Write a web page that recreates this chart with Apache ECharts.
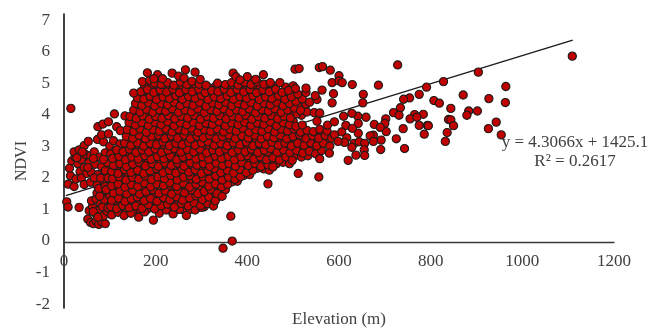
<!DOCTYPE html>
<html><head><meta charset="utf-8">
<style>html,body{margin:0;padding:0;background:#fff}#c{width:663px;height:333px}</style>
<script src="https://cdn.jsdelivr.net/npm/echarts@6/dist/echarts.min.js"></script>
</head><body><div id="c"></div>
<script>
const xTicks=[0,200,400,600,800,1000,1200];
const yTicks=[-2,-1,0,1,2,3,4,5,6,7];
const trendLine=[[4,1.44],[1110,6.2]];
const equationLines=['y = 4.3066x + 1425.1','R² = 0.2617'];

const leftCluster=[[6,1.25],[9,1.09],[33,1.08],[9,1.79],[15,4.11],[22,1.72],[14,2.05],[12,2.28],[17,2.5],[24,2.62],[22,2.78],[33,2.84],[44,2.97],[53,3.1],[73,3.16],[86,3.09],[82,3.3],[97,3.33],[74,3.55],[85,3.63],[97,3.7],[110,3.94],[115,3.55],[123,3.43],[133,3.88],
[30,2.42],[38,2.55],[47,2.7],[58,2.66],[66,2.78],[78,2.62],[90,2.75],[35,2.18],[44,2.3],[55,2.45],[68,2.4],[82,2.33],[26,1.95],[38,1.98],[50,2.12],[60,2.15],[74,2.08],[90,2.2],[44,1.78],[58,1.85],[72,1.76],[86,1.9],[100,2.95],[112,2.82],[108,3.12],[122,3.02],[95,2.45],
[52,.72],[58,.62],[64,.58],[70,.66],[76,.56],[82,.64],[90,.58],[55,.98],[62,1.1],[70,.88],[78,1.02],[86,.82],[94,.96],[60,1.28],[70,1.34],[80,1.2],[92,1.16],[72,1.52],[84,1.44],[96,1.56],[76,1.66],[90,1.72],
[64,.95],[74,.78],[84,1.1],[96,1.06],[88,1.32],[100,1.42],[78,1.42],[92,1.62],[66,1.98],[80,1.98],[96,1.98],[28,2.6],[40,2.78],[52,2.3],[64,2.58],[86,2.55],[102,2.72]];

const coreLower=[[104,.85],[118,.93],[131,.83],[146,.9],[163,.78],[176,.94],[195,.69],[208,.9],[223,1],[238,.88],[252,1.02],[267,.83],[286,1],[300,1.08],
[102,1.1],[115,1.04],[128,1.14],[142,1.07],[157,1.12],[170,1.05],[184,1.16],[198,1.03],[212,1.13],[226,1.18],[241,1.09],[256,1.2],[271,1.12],[284,1.22],[298,1.14],[313,1.2],[326,1.12],
[104,1.3],[119,1.36],[133,1.26],[147,1.33],[160,1.4],[175,1.28],[189,1.35],[203,1.27],[217,1.38],[231,1.31],[245,1.4],[259,1.3],[274,1.37],[288,1.43],[302,1.32],[316,1.39],[330,1.28],
[108,1.52],[122,1.58],[137,1.5],[150,1.6],[165,1.49],[179,1.56],[193,1.62],[207,1.51],[221,1.58],[235,1.49],[249,1.6],[263,1.53],[278,1.61],[292,1.5],[306,1.57],[320,1.63],[334,1.5],[345,1.42],
[104,1.74],[118,1.8],[133,1.7],[147,1.78],[161,1.72],[175,1.83],[189,1.71],[203,1.8],[217,1.75],[231,1.84],[246,1.72],[260,1.81],[274,1.7],[288,1.79],[302,1.85],[316,1.73],[330,1.8],[344,1.71],[357,1.78],
[106,1.96],[120,2.02],[135,1.92],[149,2],[163,1.94],[177,2.04],[191,1.93],[205,2.01],[219,1.96],[233,2.06],[247,1.92],[261,2],[275,2.05],[289,1.94],[303,2.02],[317,1.95],[331,2.05],[345,1.92],[359,2],[373,1.94],[385,2.02],
[104,2.18],[118,2.12],[132,2.24],[146,2.15],[160,2.22],[174,2.12],[188,2.2],[202,2.26],[216,2.14],[230,2.22],[244,2.13],[258,2.25],[272,2.16],[286,2.23],[300,2.12],[314,2.2],[328,2.27],[342,2.14],[356,2.22],[370,2.13],[384,2.24],[398,2.15],[412,2.22],
[108,2.36],[122,2.42],[136,2.33],[150,2.4],[164,2.46],[178,2.35],[192,2.42],[206,2.33],[220,2.44],[234,2.36],[248,2.43],[262,2.34],[276,2.45],[290,2.37],[304,2.42],[318,2.33],[332,2.44],[346,2.36],[360,2.42],[374,2.34],[388,2.45],[402,2.36],[416,2.42],[430,2.33],[445,2.38],[456,2.32]];

const coreMiddle=[[106,2.58],[120,2.64],[134,2.54],[148,2.62],[162,2.56],[176,2.66],[190,2.55],[204,2.63],[218,2.57],[232,2.65],[246,2.54],[260,2.62],[274,2.66],[288,2.56],[302,2.63],[316,2.55],[330,2.65],[344,2.58],[358,2.64],[372,2.54],[386,2.62],[400,2.66],[414,2.56],[428,2.63],[442,2.54],[456,2.6],[470,2.53],[484,2.62],[498,2.52],
[115,2.84],[129,2.78],[143,2.86],[157,2.76],[171,2.84],[185,2.78],[199,2.87],[213,2.76],[227,2.83],[241,2.88],[255,2.77],[269,2.85],[283,2.78],[297,2.86],[311,2.75],[325,2.84],[339,2.78],[353,2.87],[367,2.76],[381,2.84],[395,2.78],[409,2.86],[423,2.76],[437,2.83],[451,2.88],[465,2.77],[479,2.84],[493,2.76],[507,2.82],[521,2.74],[535,2.8],[549,2.72],[562,2.82],
[132,3.05],[146,2.98],[160,3.06],[174,2.96],[188,3.04],[202,3],[216,3.08],[230,2.97],[244,3.04],[258,3],[272,3.07],[286,2.98],[300,3.05],[314,3.09],[328,2.98],[342,3.04],[356,2.97],[370,3.06],[384,3],[398,3.08],[412,2.97],[426,3.04],[440,3],[454,3.07],[468,2.98],[482,3.05],[496,2.96],[510,3.04],[524,2.98],[538,3.06],[552,2.97],[566,3.04],[580,2.96],
[136,3.26],[150,3.2],[164,3.28],[178,3.18],[192,3.25],[206,3.3],[220,3.19],[234,3.27],[248,3.2],[262,3.29],[276,3.18],[290,3.26],[304,3.21],[318,3.28],[332,3.18],[346,3.25],[360,3.3],[374,3.19],[388,3.27],[402,3.2],[416,3.29],[430,3.18],[444,3.26],[458,3.21],[472,3.28],[486,3.18],[500,3.25],[514,3.3],[528,3.19],[542,3.27],[556,3.2],[570,3.28],[584,3.2],
[138,3.46],[152,3.4],[166,3.48],[180,3.38],[194,3.46],[208,3.41],[222,3.49],[236,3.39],[250,3.47],[264,3.42],[278,3.5],[292,3.38],[306,3.46],[320,3.41],[334,3.49],[348,3.39],[362,3.47],[376,3.42],[390,3.5],[404,3.38],[418,3.46],[432,3.41],[446,3.49],[460,3.39],[474,3.47],[488,3.42],[502,3.48],[516,3.38],[530,3.44],[544,3.4],[558,3.47],[574,3.42],
[142,3.68],[156,3.6],[170,3.67],[184,3.59],[198,3.69],[212,3.62],[226,3.7],[240,3.58],[254,3.67],[268,3.61],[282,3.69],[296,3.59],[310,3.66],[324,3.62],[338,3.7],[352,3.58],[366,3.67],[380,3.61],[394,3.69],[408,3.59],[422,3.66],[436,3.62],[450,3.7],[464,3.58],[478,3.67],[492,3.61],[506,3.56],[520,3.6],[552,3.72]];

const coreUpper=[[144,3.86],[158,3.8],[172,3.88],[186,3.78],[200,3.86],[214,3.81],[228,3.89],[242,3.79],[256,3.87],[270,3.82],[284,3.9],[298,3.78],[312,3.86],[326,3.81],[340,3.89],[354,3.79],[368,3.87],[382,3.82],[396,3.9],[410,3.78],[424,3.86],[438,3.81],[452,3.89],[466,3.79],[480,3.87],[494,3.82],[508,3.95],[530,4],[546,3.98],[558,3.97],
[152,4.06],[166,4],[180,4.08],[194,3.99],[208,4.07],[222,4.02],[236,4.1],[250,3.99],[264,4.06],[278,4.01],[292,4.09],[306,3.98],[320,4.07],[334,4.02],[348,4.1],[362,3.99],[376,4.06],[390,4.01],[404,4.09],[418,3.98],[432,4.07],[446,4.02],[460,4.1],[474,3.99],[488,4.06],[502,4.12],[516,4.05],
[156,4.26],[170,4.2],[184,4.28],[198,4.19],[212,4.27],[226,4.22],[240,4.3],[254,4.19],[268,4.26],[282,4.21],[296,4.29],[310,4.18],[324,4.27],[338,4.22],[352,4.3],[366,4.19],[380,4.26],[394,4.21],[408,4.29],[422,4.18],[436,4.27],[450,4.22],[464,4.3],[478,4.19],[492,4.26],[506,4.32],[520,4.4],[536,4.3],[552,4.38],
[160,4.44],[174,4.4],[188,4.48],[202,4.38],[216,4.46],[230,4.41],[244,4.5],[258,4.39],[272,4.47],[286,4.42],[300,4.5],[314,4.38],[328,4.46],[342,4.41],[356,4.49],[370,4.39],[384,4.47],[398,4.42],[412,4.5],[426,4.38],[440,4.46],[454,4.41],[468,4.49],[482,4.39],[496,4.47],[510,4.55],[528,4.6],[548,4.5],[563,4.67],
[152,4.58],[168,4.62],[182,4.68],[196,4.6],[210,4.67],[224,4.61],[238,4.7],[252,4.59],[266,4.68],[280,4.62],[294,4.7],[308,4.59],[322,4.66],[336,4.62],[350,4.7],[364,4.6],[378,4.68],[392,4.61],[406,4.69],[420,4.59],[434,4.67],[448,4.62],[462,4.7],[476,4.6],[490,4.66],[505,4.72],[528,4.73],
[171,4.93],[187,4.97],[198,4.88],[212,4.84],[226,4.9],[240,4.82],[254,4.92],[268,4.84],[279,4.94],[295,4.85],[310,4.82],[335,4.88],[352,4.84],[366,4.9],[380,4.83],[394,4.9],[408,4.84],[422,4.92],[436,4.85],[450,4.9],[471,4.9],
[182,5.2],[204,5.14],[196,5.02],[215,5.02],[236,5.19],[250,5.1],[265,5.29],[286,5.22],[297,5],[262,5.04],[369,5.19],[375,5.08],[400,5.08],[435,5.14],[384,4.98],[418,5]];

const coreInfill=[[111,1],[125,.98],[139,1],[153,.97],[167,.95],[181,1.02],[203,1.05],[217,1.05],[231,1],[246,1.02],[261,1],[276,1.02],[292,1.08],[306,1.1],
[110,1.22],[124,1.2],[138,1.18],[152,1.24],[166,1.2],[181,1.22],[195,1.18],[208,1.22],[222,1.25],[236,1.2],[250,1.26],[265,1.22],[279,1.26],[293,1.28],[308,1.25],[322,1.28],
[113,1.44],[127,1.44],[141,1.4],[155,1.48],[169,1.4],[183,1.45],[197,1.42],[211,1.46],[225,1.44],[239,1.38],[253,1.48],[268,1.42],[282,1.5],[297,1.42],[311,1.48],[325,1.4],[338,1.42],
[100,1.62],[112,1.64],[128,1.62],[143,1.66],[156,1.62],[170,1.68],[185,1.64],[199,1.7],[213,1.66],[228,1.7],[242,1.62],[256,1.7],[270,1.62],[284,1.68],[298,1.66],[312,1.66],[326,1.7],[340,1.6],[352,1.62],
[100,1.86],[112,1.9],[126,1.88],[141,1.84],[155,1.9],[169,1.84],[183,1.92],[197,1.84],[211,1.9],[225,1.86],[239,1.94],[253,1.84],[267,1.9],[281,1.86],[295,1.9],[309,1.86],[323,1.9],[337,1.86],[351,1.84],[366,1.86],[378,1.88],
[98,2.06],[111,2.08],[126,2.1],[140,2.04],[154,2.12],[168,2.06],[182,2.1],[196,2.06],[210,2.12],[224,2.08],[238,2.14],[252,2.08],[266,2.1],[280,2.12],[294,2.1],[308,2.08],[322,2.1],[336,2.12],[350,2.08],[364,2.06],[378,2.1],[392,2.06],[405,2.08],
[102,2.28],[114,2.3],[128,2.3],[142,2.26],[156,2.32],[170,2.28],[184,2.3],[198,2.34],[212,2.28],[226,2.32],[240,2.26],[254,2.34],[268,2.28],[282,2.32],[296,2.28],[310,2.3],[324,2.36],[338,2.28],[352,2.32],[366,2.26],[380,2.32],[394,2.28],[408,2.3],[422,2.28],[436,2.26],[448,2.22],
[114,2.5],[128,2.52],[142,2.46],[156,2.52],[170,2.48],[184,2.5],[198,2.46],[212,2.52],[226,2.48],[240,2.5],[254,2.46],[268,2.52],[282,2.48],[296,2.5],[310,2.48],[324,2.52],[338,2.48],[352,2.5],[366,2.46],[380,2.52],[394,2.48],[408,2.5],[422,2.46],[436,2.48],[450,2.46],[464,2.42],[478,2.46],[492,2.42],
[112,2.72],[126,2.7],[140,2.72],[154,2.68],[168,2.72],[182,2.7],[196,2.74],[210,2.68],[224,2.72],[238,2.7],[252,2.7],[266,2.74],[280,2.68],[294,2.72],[308,2.68],[322,2.72],[336,2.7],[350,2.74],[364,2.68],[378,2.72],[392,2.7],[406,2.74],[420,2.68],[434,2.72],[448,2.68],[462,2.66],[476,2.7],[490,2.66],[504,2.66],[518,2.62],[532,2.66],
[122,2.94],[136,2.9],[150,2.94],[164,2.92],[178,2.9],[192,2.94],[206,2.92],[220,2.95],[234,2.9],[248,2.94],[262,2.92],[276,2.95],[290,2.92],[304,2.95],[318,2.92],[332,2.94],[346,2.92],[360,2.94],[374,2.9],[388,2.95],[402,2.92],[416,2.94],[430,2.9],[444,2.92],[458,2.95],[472,2.9],[486,2.92],[500,2.88],[514,2.92],[528,2.9],[542,2.92],[556,2.9],
[140,3.14],[154,3.12],[168,3.16],[182,3.12],[196,3.14],[210,3.18],[224,3.12],[238,3.14],[252,3.12],[266,3.16],[280,3.12],[294,3.14],[308,3.16],[322,3.12],[336,3.14],[350,3.12],[364,3.16],[378,3.12],[392,3.14],[406,3.12],[420,3.16],[434,3.1],[448,3.14],[462,3.12],[476,3.16],[490,3.1],[504,3.14],[518,3.12],[532,3.1],[546,3.14],[560,3.12],[574,3.14],
[144,3.36],[158,3.34],[172,3.38],[186,3.32],[200,3.36],[214,3.34],[228,3.38],[242,3.32],[256,3.36],[270,3.34],[284,3.38],[298,3.32],[312,3.36],[326,3.34],[340,3.38],[354,3.32],[368,3.36],[382,3.34],[396,3.38],[410,3.32],[424,3.36],[438,3.34],[452,3.38],[466,3.32],[480,3.36],[494,3.32],[508,3.36],[522,3.32],[536,3.36],[550,3.32],[564,3.36],
[148,3.56],[162,3.54],[176,3.56],[190,3.52],[204,3.56],[218,3.54],[232,3.58],[246,3.52],[260,3.56],[274,3.54],[288,3.58],[302,3.52],[316,3.56],[330,3.54],[344,3.56],[358,3.52],[372,3.56],[386,3.54],[400,3.58],[414,3.52],[428,3.56],[442,3.54],[456,3.56],[470,3.52],[484,3.54],[498,3.5],
[150,3.76],[164,3.74],[178,3.76],[192,3.72],[206,3.76],[220,3.74],[234,3.78],[248,3.72],[262,3.76],[276,3.74],[290,3.78],[304,3.72],[318,3.76],[332,3.74],[346,3.78],[360,3.72],[374,3.76],[388,3.74],[402,3.78],[416,3.72],[430,3.76],[444,3.74],[458,3.76],[472,3.72],[486,3.76],[500,3.72],
[158,3.96],[172,3.94],[186,3.97],[200,3.94],[214,3.97],[228,3.94],[242,3.98],[256,3.94],[270,3.96],[284,3.94],[298,3.98],[312,3.94],[326,3.96],[340,3.94],[354,3.98],[368,3.94],[382,3.96],[396,3.94],[410,3.98],[424,3.94],[438,3.96],[452,3.94],[466,3.98],[480,3.94],[494,3.96],[518,3.9],
[160,4.14],[174,4.12],[188,4.16],[202,4.14],[216,4.17],[230,4.12],[244,4.16],[258,4.14],[272,4.17],[286,4.12],[300,4.16],[314,4.14],[328,4.17],[342,4.12],[356,4.16],[370,4.14],[384,4.17],[398,4.12],[412,4.16],[426,4.14],[440,4.17],[454,4.12],[468,4.16],[482,4.14],[496,4.17],[510,4.2],[528,4.22],
[166,4.34],[180,4.36],[194,4.32],[208,4.36],[222,4.34],[236,4.37],[250,4.32],[264,4.36],[278,4.34],[292,4.37],[306,4.32],[320,4.36],[334,4.34],[348,4.37],[362,4.32],[376,4.36],[390,4.34],[404,4.37],[418,4.32],[432,4.36],[446,4.34],[460,4.37],[474,4.32],[488,4.36],[500,4.4],
[174,4.54],[188,4.56],[202,4.52],[216,4.56],[230,4.54],[244,4.57],[258,4.52],[272,4.56],[286,4.54],[300,4.57],[314,4.52],[328,4.56],[342,4.54],[356,4.57],[370,4.52],[384,4.56],[398,4.54],[412,4.57],[426,4.52],[440,4.56],[454,4.54],[468,4.57],[482,4.52],[498,4.56],[518,4.5],
[176,4.78],[190,4.76],[204,4.78],[218,4.76],[232,4.78],[246,4.75],[260,4.78],[274,4.76],[288,4.78],[302,4.75],[316,4.74],[330,4.78],[344,4.76],[358,4.78],[372,4.75],[386,4.78],[400,4.76],[414,4.78],[428,4.75],[442,4.78],[456,4.8],[484,4.76],[500,4.8]];

const rightSparse=[[504,5.31],[513,5.33],[557,5.36],[564,5.39],[581,5.28],[600,5.11],[585,4.9],[600,4.95],[607,4.9],[629,4.84],[686,4.82],[728,5.44],[653,4.54],[588,4.56],[585,4.28],[652,4.28],[558,2.57],[556,2.01],[511,2.12],[445,1.8],[364,.81],[367,.05],[347,-.17],
[791,4.76],[775,4.54],[754,4.43],[741,4.39],[807,4.35],[819,4.27],[734,4.13],[719,3.98],[731,3.9],[765,3.92],[784,3.93],[755,3.79],[770,3.84],[775,3.59],[793,3.59],[795,3.58],[786,3.32],[740,3.49],[725,3.18],[743,2.88],[691,2.85],[703,3.4],[702,3.79],[700,3.65],[677,3.62],[690,3.53],[692,3.14],[675,3.29],[668,3.27],[675,3.1],
[659,3.84],[641,3.87],[628,3.96],[610,3.87],[615,3.59],[642,3.65],[642,3.35],[629,3.5],[606,3.39],[617,3.21],[612,3.07],[633,3.04],[628,2.92],[644,3.09],[656,3.04],[655,2.84],[637,2.68],[656,2.67],[620,2.52],[579,2.74],[590,3.3],[598,3.1],[575,3.6],[590,3.7],
[828,4.93],[904,5.22],[1109,5.71],[964,4.78],[963,4.29],[927,4.41],[871,4.52],[844,4.11],[902,4.03],[883,4.03],[879,3.9],[839,3.77],[844,3.76],[850,3.58],[836,3.37],[832,3.1],[943,3.69],[926,3.49],[954,3.3]];

const serif='"Liberation Serif","Times New Roman",serif';
const labelColor='#404040';
const chart=echarts.init(document.getElementById('c'),null,{renderer:'canvas'});
const points=[].concat(coreInfill,leftCluster,coreLower,coreMiddle,coreUpper,rightSparse);
chart.setOption({
  animation:false,
  backgroundColor:'#fff',
  grid:{left:64,right:49,top:14,bottom:25,containLabel:false,outerBoundsMode:'none'},
  xAxis:{type:'value',min:0,max:1200,interval:200,
    axisLine:{show:true,onZero:true,lineStyle:{color:'#3a3a3a',width:1.4}},
    axisTick:{show:false},splitLine:{show:false},
    axisLabel:{customValues:xTicks,margin:-55,color:labelColor,fontFamily:serif,fontSize:17,hideOverlap:false,showMinLabel:true,showMaxLabel:true,formatter:v=>String(v)},
    name:'Elevation (m)',nameLocation:'middle',nameGap:3,nameMoveOverlap:false,
    nameTextStyle:{color:labelColor,fontFamily:serif,fontSize:17}},
  yAxis:[
    {type:'value',min:-2,max:7,interval:1,
     axisLine:{show:true,onZero:false,lineStyle:{color:'#111',width:1.6}},
     axisTick:{show:false},axisLabel:{show:false},splitLine:{show:false}},
    {type:'value',min:-2.124,max:7.195,position:'left',
     axisLine:{show:false,onZero:false},axisTick:{show:false},splitLine:{show:false},
     axisLabel:{customValues:yTicks,margin:14,color:labelColor,fontFamily:serif,fontSize:17},
     name:'NDVI',nameLocation:'middle',nameGap:34,nameRotate:90,nameMoveOverlap:false,
     nameTextStyle:{color:labelColor,fontFamily:serif,fontSize:16}}
  ],
  series:[
    {type:'line',data:trendLine,showSymbol:false,symbol:'none',z:1,silent:true,
     lineStyle:{color:'#1a1a1a',width:1.4}},
    {type:'scatter',data:points,symbol:'circle',symbolSize:8.2,z:2,
     itemStyle:{color:'#c00000',borderColor:'#1c1c1c',borderWidth:1.1,opacity:1}}
  ],
  graphic:[
    {type:'text',x:575,y:143,z:10,style:{text:equationLines[0],fill:labelColor,font:'17px '+serif,textAlign:'center',textVerticalAlign:'middle'}},
    {type:'text',x:575,y:162,z:10,style:{text:equationLines[1],fill:labelColor,font:'17px '+serif,textAlign:'center',textVerticalAlign:'middle'}}
  ]
});
</script></body></html>
